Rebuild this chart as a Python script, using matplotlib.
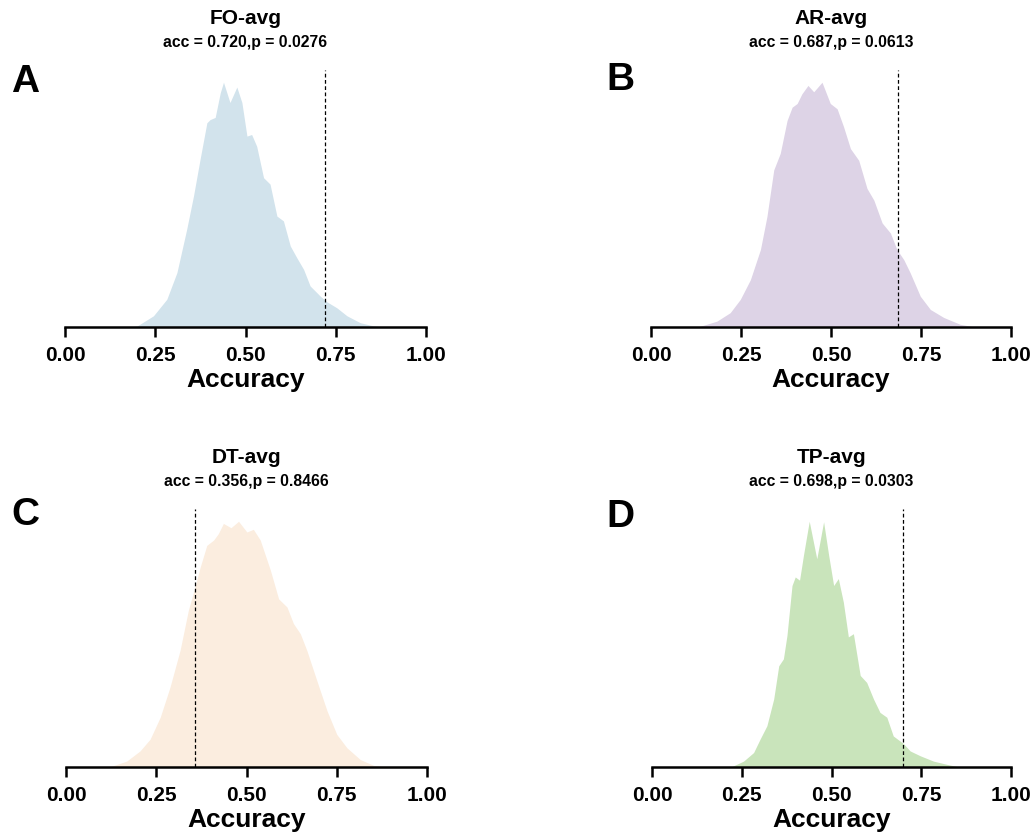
import matplotlib.pyplot as plt

plt.rcParams['font.family'] = ['Liberation Sans', 'DejaVu Sans']
plt.rcParams['font.weight'] = 'bold'

# density curves (x = accuracy, y = density)
fo_x = [0.18, 0.20, 0.245, 0.282, 0.31, 0.337, 0.356, 0.374, 0.393, 0.402, 0.416, 0.43, 0.439,
        0.457, 0.476, 0.49, 0.504, 0.517, 0.531, 0.55, 0.568, 0.587, 0.605, 0.624, 0.642,
        0.661, 0.679, 0.707, 0.726, 0.753, 0.781, 0.818, 0.855, 0.88]
fo_y = [0.0, 0.02, 0.21, 0.52, 1.02, 1.83, 2.46, 3.14, 3.83, 3.89, 3.93, 4.39, 4.59,
        4.21, 4.50, 4.21, 3.58, 3.61, 3.39, 2.80, 2.68, 2.08, 1.99, 1.52, 1.30,
        1.08, 0.77, 0.58, 0.47, 0.36, 0.21, 0.08, 0.02, 0.0]

ar_x = [0.13, 0.183, 0.22, 0.248, 0.276, 0.304, 0.322, 0.341, 0.359, 0.378, 0.392, 0.406, 0.419,
        0.436, 0.452, 0.475, 0.498, 0.517, 0.535, 0.554, 0.577, 0.60, 0.619, 0.642, 0.665,
        0.683, 0.702, 0.72, 0.748, 0.776, 0.813, 0.859, 0.90]
ar_y = [0.0, 0.11, 0.27, 0.52, 0.89, 1.46, 2.08, 2.96, 3.27, 3.89, 4.14, 4.21, 4.39,
        4.55, 4.43, 4.61, 4.21, 4.11, 3.77, 3.36, 3.14, 2.61, 2.39, 1.96, 1.77,
        1.46, 1.27, 1.02, 0.58, 0.33, 0.18, 0.05, 0.0]

dt_x = [0.12, 0.168, 0.205, 0.233, 0.261, 0.288, 0.316, 0.339, 0.357, 0.372, 0.39, 0.409, 0.422,
        0.436, 0.457, 0.478, 0.501, 0.519, 0.538, 0.566, 0.589, 0.612, 0.63, 0.649, 0.667,
        0.695, 0.723, 0.75, 0.778, 0.815, 0.852, 0.89]
dt_y = [0.0, 0.11, 0.30, 0.52, 0.93, 1.49, 2.18, 2.93, 3.36, 3.74, 4.14, 4.24, 4.36,
        4.55, 4.47, 4.59, 4.39, 4.44, 4.24, 3.68, 3.14, 2.99, 2.68, 2.49, 2.18,
        1.61, 1.05, 0.61, 0.36, 0.14, 0.03, 0.0]

tp_x = [0.22, 0.255, 0.283, 0.301, 0.32, 0.339, 0.353, 0.366, 0.376, 0.39, 0.399, 0.411, 0.422,
        0.438, 0.459, 0.478, 0.492, 0.506, 0.519, 0.533, 0.547, 0.561, 0.58, 0.598, 0.617,
        0.635, 0.654, 0.672, 0.70, 0.719, 0.747, 0.784, 0.821, 0.855]
tp_y = [0.0, 0.11, 0.27, 0.52, 0.77, 1.27, 1.89, 2.02, 2.46, 3.39, 3.55, 3.49, 3.96,
        4.59, 3.89, 4.58, 3.96, 3.39, 3.52, 3.08, 2.43, 2.49, 1.71, 1.58, 1.27,
        1.02, 0.93, 0.58, 0.44, 0.30, 0.21, 0.11, 0.05, 0.0]

titles = ['FO-avg', 'AR-avg', 'DT-avg', 'TP-avg']
acc_values = [0.720, 0.687, 0.356, 0.698]
p_values = [0.0276, 0.0613, 0.8466, 0.0303]
letters = ['A', 'B', 'C', 'D']
colors = ['#d2e3ec', '#ddd3e6', '#fbeddf', '#c9e4bb']
curves = [(fo_x, fo_y), (ar_x, ar_y), (dt_x, dt_y), (tp_x, tp_y)]

W, H = 1036, 832
fig = plt.figure(figsize=(W / 100, H / 100), dpi=100)

# axes boxes in pixels: left, bottom(from top), right, top(from top)
boxes = [(65, 327, 426, 70), (651, 327, 1011, 70),
         (66, 767, 427, 509), (652, 767, 1011, 509)]
letter_pos = [(25, 82), (620, 80), (25, 515), (620, 517)]

for i in range(4):
    l, b, r, t = boxes[i]
    ax = fig.add_axes([l / W, 1 - b / H, (r - l) / W, (b - t) / H])
    x, y = curves[i]
    ax.fill_between(x, 0, y, color=colors[i], lw=0)
    ax.set_xlim(0, 1)
    ax.set_ylim(0, max(y) * 1.05)
    ax.axvline(acc_values[i], color='black', lw=0.9, ls=(0, (3, 2)))

    for s in ['left', 'top', 'right']:
        ax.spines[s].set_visible(False)
    ax.spines['bottom'].set_linewidth(1.8)
    ax.set_yticks([])
    ax.set_xticks([0, 0.25, 0.5, 0.75, 1.0])
    ax.set_xticklabels(['0.00', '0.25', '0.50', '0.75', '1.00'])
    ax.tick_params(axis='x', length=7, width=1.8, labelsize=15, pad=7)
    for lab in ax.get_xticklabels():
        lab.set_fontweight('bold')
    ax.set_xlabel('Accuracy', fontsize=19, fontweight='bold', labelpad=1.5)

    ax.annotate(titles[i], xy=(0.5, 1), xycoords='axes fraction',
                xytext=(0, 37), textcoords='offset points',
                ha='center', va='center', fontsize=15, fontweight='bold')
    ax.annotate('acc = %.3f,p = %.4f' % (acc_values[i], p_values[i]),
                xy=(0.5, 1), xycoords='axes fraction',
                xytext=(0, 20), textcoords='offset points',
                ha='center', va='center', fontsize=11.3, fontweight='bold')

    fig.text(letter_pos[i][0] / W, 1 - letter_pos[i][1] / H, letters[i],
             ha='center', va='center', fontsize=28, fontweight='bold')

fig.savefig('out.png', dpi=100)
